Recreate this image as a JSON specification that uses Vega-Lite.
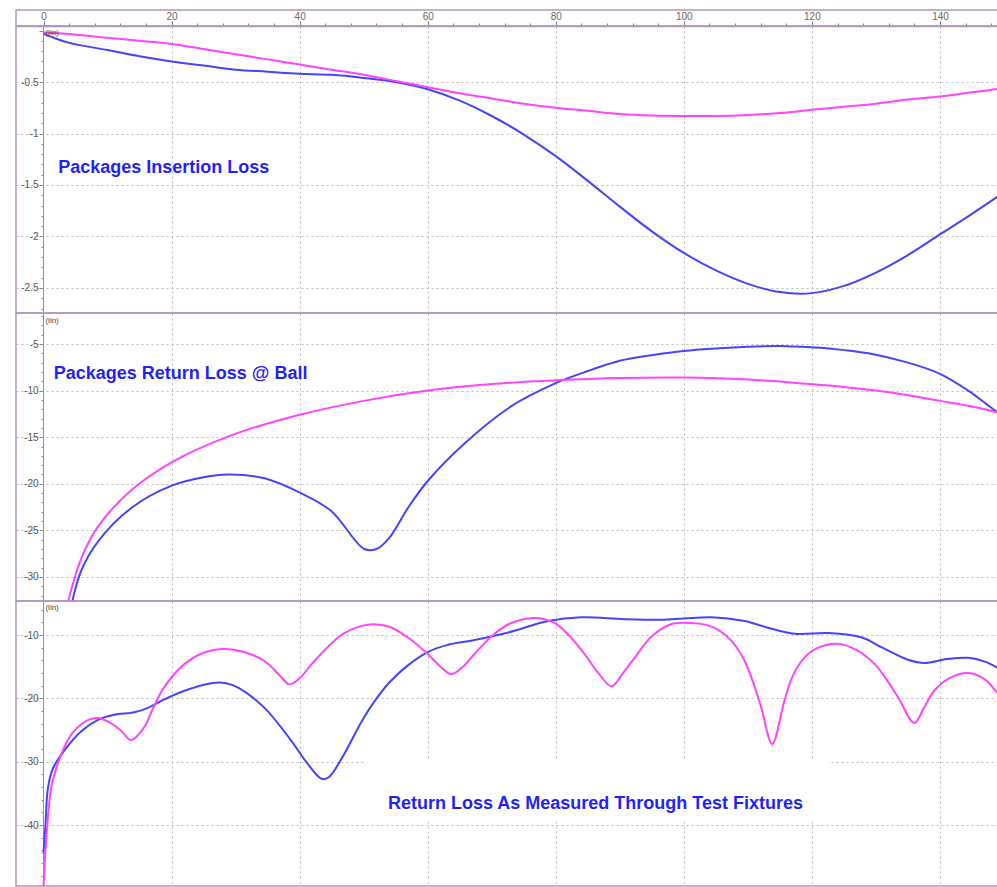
{
"$schema": "https://vega.github.io/schema/vega-lite/v6.json",
"padding": {"left": 15, "top": 9, "right": 0, "bottom": 0},
"background": "white",
"spacing": 0,
"bounds": "flush",
"config": {
  "view": {"stroke": "#b096b8", "strokeWidth": 1.5},
  "font": "Liberation Sans",
  "axis": {"labelFont": "Liberation Sans", "labelFontSize": 10, "labelColor": "#555555", "title": null, "labelOverlap": false, "labelFlush": false, "labelBound": false, "tickCount": 500}
},
"resolve": {"scale": {"y": "independent"}},
"datasets": {
  "d": [
    {"p":1,"s":"b","x":0,"y":-0.03},{"p":1,"s":"b","x":2,"y":-0.08},{"p":1,"s":"b","x":4,"y":-0.12},{"p":1,"s":"b","x":10,"y":-0.19},{"p":1,"s":"b","x":15,"y":-0.25},{"p":1,"s":"b","x":20,"y":-0.3},{"p":1,"s":"b","x":25,"y":-0.34},{"p":1,"s":"b","x":30,"y":-0.38},{"p":1,"s":"b","x":35,"y":-0.4},{"p":1,"s":"b","x":40,"y":-0.42},{"p":1,"s":"b","x":45,"y":-0.43},{"p":1,"s":"b","x":50,"y":-0.46},{"p":1,"s":"b","x":55,"y":-0.5},{"p":1,"s":"b","x":60,"y":-0.57},{"p":1,"s":"b","x":65,"y":-0.68},{"p":1,"s":"b","x":70,"y":-0.83},{"p":1,"s":"b","x":75,"y":-1.01},{"p":1,"s":"b","x":80,"y":-1.22},{"p":1,"s":"b","x":85,"y":-1.46},{"p":1,"s":"b","x":90,"y":-1.71},{"p":1,"s":"b","x":95,"y":-1.95},{"p":1,"s":"b","x":100,"y":-2.16},{"p":1,"s":"b","x":105,"y":-2.33},{"p":1,"s":"b","x":110,"y":-2.46},{"p":1,"s":"b","x":115,"y":-2.54},{"p":1,"s":"b","x":120,"y":-2.55},{"p":1,"s":"b","x":125,"y":-2.48},{"p":1,"s":"b","x":130,"y":-2.35},{"p":1,"s":"b","x":135,"y":-2.18},{"p":1,"s":"b","x":140,"y":-1.98},{"p":1,"s":"b","x":145,"y":-1.78},{"p":1,"s":"b","x":150,"y":-1.57},
    {"p":1,"s":"m","x":0,"y":-0.02},{"p":1,"s":"m","x":5,"y":-0.04},{"p":1,"s":"m","x":10,"y":-0.07},{"p":1,"s":"m","x":15,"y":-0.1},{"p":1,"s":"m","x":20,"y":-0.13},{"p":1,"s":"m","x":25,"y":-0.18},{"p":1,"s":"m","x":30,"y":-0.23},{"p":1,"s":"m","x":35,"y":-0.28},{"p":1,"s":"m","x":40,"y":-0.33},{"p":1,"s":"m","x":45,"y":-0.38},{"p":1,"s":"m","x":50,"y":-0.43},{"p":1,"s":"m","x":55,"y":-0.49},{"p":1,"s":"m","x":60,"y":-0.55},{"p":1,"s":"m","x":65,"y":-0.61},{"p":1,"s":"m","x":70,"y":-0.66},{"p":1,"s":"m","x":75,"y":-0.71},{"p":1,"s":"m","x":80,"y":-0.75},{"p":1,"s":"m","x":85,"y":-0.78},{"p":1,"s":"m","x":90,"y":-0.81},{"p":1,"s":"m","x":95,"y":-0.825},{"p":1,"s":"m","x":100,"y":-0.83},{"p":1,"s":"m","x":105,"y":-0.83},{"p":1,"s":"m","x":110,"y":-0.82},{"p":1,"s":"m","x":115,"y":-0.8},{"p":1,"s":"m","x":120,"y":-0.77},{"p":1,"s":"m","x":125,"y":-0.74},{"p":1,"s":"m","x":130,"y":-0.71},{"p":1,"s":"m","x":135,"y":-0.67},{"p":1,"s":"m","x":140,"y":-0.64},{"p":1,"s":"m","x":145,"y":-0.6},{"p":1,"s":"m","x":150,"y":-0.56},
    {"p":2,"s":"b","x":4.2,"y":-33.5},{"p":2,"s":"b","x":5.9,"y":-29.3},{"p":2,"s":"b","x":8.5,"y":-26.2},{"p":2,"s":"b","x":13.7,"y":-22.6},{"p":2,"s":"b","x":20,"y":-20.2},{"p":2,"s":"b","x":25,"y":-19.3},{"p":2,"s":"b","x":28.8,"y":-19.0},{"p":2,"s":"b","x":34.5,"y":-19.4},{"p":2,"s":"b","x":40.2,"y":-21.0},{"p":2,"s":"b","x":44.9,"y":-22.9},{"p":2,"s":"b","x":50.1,"y":-27.0},{"p":2,"s":"b","x":52,"y":-27.0},{"p":2,"s":"b","x":54,"y":-25.8},{"p":2,"s":"b","x":57,"y":-22.5},{"p":2,"s":"b","x":60,"y":-19.7},{"p":2,"s":"b","x":65.7,"y":-15.7},{"p":2,"s":"b","x":73,"y":-11.7},{"p":2,"s":"b","x":80,"y":-9.2},{"p":2,"s":"b","x":85,"y":-7.9},{"p":2,"s":"b","x":90,"y":-6.8},{"p":2,"s":"b","x":95,"y":-6.2},{"p":2,"s":"b","x":100,"y":-5.75},{"p":2,"s":"b","x":110,"y":-5.3},{"p":2,"s":"b","x":115,"y":-5.2},{"p":2,"s":"b","x":118.4,"y":-5.3},{"p":2,"s":"b","x":123,"y":-5.5},{"p":2,"s":"b","x":128.8,"y":-6.0},{"p":2,"s":"b","x":135,"y":-7.0},{"p":2,"s":"b","x":140,"y":-8.2},{"p":2,"s":"b","x":144.4,"y":-10.0},{"p":2,"s":"b","x":147,"y":-11.3},{"p":2,"s":"b","x":150,"y":-12.9},
    {"p":2,"s":"m","x":3.5,"y":-33.5},{"p":2,"s":"m","x":5.9,"y":-28.0},{"p":2,"s":"m","x":8.5,"y":-24.6},{"p":2,"s":"m","x":13.7,"y":-20.7},{"p":2,"s":"m","x":20,"y":-17.7},{"p":2,"s":"m","x":29.3,"y":-14.8},{"p":2,"s":"m","x":40,"y":-12.6},{"p":2,"s":"m","x":50,"y":-11.1},{"p":2,"s":"m","x":60,"y":-10.0},{"p":2,"s":"m","x":70,"y":-9.3},{"p":2,"s":"m","x":80,"y":-8.9},{"p":2,"s":"m","x":90,"y":-8.65},{"p":2,"s":"m","x":100,"y":-8.6},{"p":2,"s":"m","x":110,"y":-8.8},{"p":2,"s":"m","x":118,"y":-9.2},{"p":2,"s":"m","x":125,"y":-9.6},{"p":2,"s":"m","x":130,"y":-10.0},{"p":2,"s":"m","x":135,"y":-10.5},{"p":2,"s":"m","x":140,"y":-11.1},{"p":2,"s":"m","x":145,"y":-11.7},{"p":2,"s":"m","x":150,"y":-12.5},
    {"p":3,"s":"b","x":0,"y":-44.5},{"p":3,"s":"b","x":0.3,"y":-40},{"p":3,"s":"b","x":0.7,"y":-34.1},{"p":3,"s":"b","x":1.5,"y":-31},{"p":3,"s":"b","x":3.2,"y":-28.3},{"p":3,"s":"b","x":5.9,"y":-25.2},{"p":3,"s":"b","x":8.5,"y":-23.4},{"p":3,"s":"b","x":11,"y":-22.6},{"p":3,"s":"b","x":14.2,"y":-22.2},{"p":3,"s":"b","x":16.3,"y":-21.5},{"p":3,"s":"b","x":18.8,"y":-20.2},{"p":3,"s":"b","x":22,"y":-18.8},{"p":3,"s":"b","x":26.2,"y":-17.6},{"p":3,"s":"b","x":28.5,"y":-17.6},{"p":3,"s":"b","x":30.4,"y":-18.3},{"p":3,"s":"b","x":34.5,"y":-21.5},{"p":3,"s":"b","x":38.7,"y":-26.7},{"p":3,"s":"b","x":41,"y":-30},{"p":3,"s":"b","x":43.4,"y":-32.7},{"p":3,"s":"b","x":44.5,"y":-32.5},{"p":3,"s":"b","x":46.5,"y":-29.6},{"p":3,"s":"b","x":49.6,"y":-23.8},{"p":3,"s":"b","x":51.6,"y":-20.6},{"p":3,"s":"b","x":54,"y":-17.5},{"p":3,"s":"b","x":56.9,"y":-14.8},{"p":3,"s":"b","x":60,"y":-12.7},{"p":3,"s":"b","x":63,"y":-11.6},{"p":3,"s":"b","x":67.3,"y":-10.8},{"p":3,"s":"b","x":72.6,"y":-9.6},{"p":3,"s":"b","x":78.8,"y":-7.8},{"p":3,"s":"b","x":84,"y":-7.2},{"p":3,"s":"b","x":90.7,"y":-7.5},{"p":3,"s":"b","x":96.5,"y":-7.6},{"p":3,"s":"b","x":100,"y":-7.4},{"p":3,"s":"b","x":104.3,"y":-7.2},{"p":3,"s":"b","x":109.5,"y":-7.8},{"p":3,"s":"b","x":113,"y":-8.8},{"p":3,"s":"b","x":117.3,"y":-9.8},{"p":3,"s":"b","x":122.6,"y":-9.7},{"p":3,"s":"b","x":127.8,"y":-10.4},{"p":3,"s":"b","x":131,"y":-12},{"p":3,"s":"b","x":135,"y":-13.9},{"p":3,"s":"b","x":137.6,"y":-14.4},{"p":3,"s":"b","x":141,"y":-13.8},{"p":3,"s":"b","x":144.4,"y":-13.6},{"p":3,"s":"b","x":147,"y":-14.2},{"p":3,"s":"b","x":149.1,"y":-15.2},{"p":3,"s":"b","x":150,"y":-15.7},
    {"p":3,"s":"m","x":0,"y":-50},{"p":3,"s":"m","x":0.3,"y":-44},{"p":3,"s":"m","x":1.2,"y":-34.1},{"p":3,"s":"m","x":2,"y":-31},{"p":3,"s":"m","x":3.2,"y":-27.8},{"p":3,"s":"m","x":4.5,"y":-25.5},{"p":3,"s":"m","x":5.9,"y":-24.1},{"p":3,"s":"m","x":7,"y":-23.4},{"p":3,"s":"m","x":8.5,"y":-23.1},{"p":3,"s":"m","x":10.5,"y":-23.9},{"p":3,"s":"m","x":12,"y":-25},{"p":3,"s":"m","x":13.7,"y":-26.6},{"p":3,"s":"m","x":15.7,"y":-24.6},{"p":3,"s":"m","x":17,"y":-21.8},{"p":3,"s":"m","x":18.8,"y":-18.3},{"p":3,"s":"m","x":22,"y":-14.6},{"p":3,"s":"m","x":25,"y":-12.8},{"p":3,"s":"m","x":28.2,"y":-12.2},{"p":3,"s":"m","x":31,"y":-12.6},{"p":3,"s":"m","x":34.5,"y":-14.1},{"p":3,"s":"m","x":37,"y":-16.5},{"p":3,"s":"m","x":38.4,"y":-17.8},{"p":3,"s":"m","x":40,"y":-16.8},{"p":3,"s":"m","x":42.3,"y":-14.1},{"p":3,"s":"m","x":46.5,"y":-10},{"p":3,"s":"m","x":49.6,"y":-8.6},{"p":3,"s":"m","x":51.6,"y":-8.3},{"p":3,"s":"m","x":54,"y":-8.7},{"p":3,"s":"m","x":56.9,"y":-10.4},{"p":3,"s":"m","x":60,"y":-13},{"p":3,"s":"m","x":62,"y":-15},{"p":3,"s":"m","x":63.7,"y":-16.2},{"p":3,"s":"m","x":65.5,"y":-15},{"p":3,"s":"m","x":67.3,"y":-13},{"p":3,"s":"m","x":70,"y":-10.2},{"p":3,"s":"m","x":72.6,"y":-8.3},{"p":3,"s":"m","x":76.7,"y":-7.3},{"p":3,"s":"m","x":79.8,"y":-8.1},{"p":3,"s":"m","x":82,"y":-10},{"p":3,"s":"m","x":84.5,"y":-13},{"p":3,"s":"m","x":86.5,"y":-15.8},{"p":3,"s":"m","x":88.7,"y":-18.1},{"p":3,"s":"m","x":90.5,"y":-16},{"p":3,"s":"m","x":92.3,"y":-13.6},{"p":3,"s":"m","x":95,"y":-10.2},{"p":3,"s":"m","x":98,"y":-8.3},{"p":3,"s":"m","x":101.2,"y":-8.1},{"p":3,"s":"m","x":103.5,"y":-8.4},{"p":3,"s":"m","x":105.4,"y":-9.2},{"p":3,"s":"m","x":107.5,"y":-11},{"p":3,"s":"m","x":109.5,"y":-14.1},{"p":3,"s":"m","x":111,"y":-18},{"p":3,"s":"m","x":112.1,"y":-21.5},{"p":3,"s":"m","x":113.8,"y":-27.2},{"p":3,"s":"m","x":115.7,"y":-20.4},{"p":3,"s":"m","x":117,"y":-16.5},{"p":3,"s":"m","x":118.8,"y":-13.6},{"p":3,"s":"m","x":121,"y":-12},{"p":3,"s":"m","x":124.1,"y":-11.4},{"p":3,"s":"m","x":127,"y":-12.4},{"p":3,"s":"m","x":129.8,"y":-14.6},{"p":3,"s":"m","x":131.5,"y":-16.8},{"p":3,"s":"m","x":133.5,"y":-19.9},{"p":3,"s":"m","x":136,"y":-23.9},{"p":3,"s":"m","x":137.5,"y":-21.5},{"p":3,"s":"m","x":139.1,"y":-18.8},{"p":3,"s":"m","x":141.5,"y":-16.8},{"p":3,"s":"m","x":144.4,"y":-16},{"p":3,"s":"m","x":147,"y":-17},{"p":3,"s":"m","x":149.1,"y":-19.3},{"p":3,"s":"m","x":150,"y":-20.2}
  ]
},
"vconcat": [
  {
    "width": 988, "height": 16,
    "data": {"name": "d"},
    "transform": [{"filter": "datum.p === 1"}],
    "mark": {"type": "point", "opacity": 0},
    "encoding": {
      "x": {"field": "x", "type": "quantitative",
        "scale": {"domain": [-4.3, 150], "nice": false, "zero": false},
        "axis": {"orient": "top", "offset": -16, "grid": false, "tickCount": 500,
          "values": [0,4,8,12,16,20,24,28,32,36,40,44,48,52,56,60,64,68,72,76,80,84,88,92,96,100,104,108,112,116,120,124,128,132,136,140,144,148],
          "labelExpr": "datum.value % 20 === 0 ? '' + datum.value : ''",
          "tickSize": {"condition": {"test": "datum.value % 20 === 0", "value": 5}, "value": 3},
          "tickColor": "#777777", "domainColor": "#b096b8", "domainWidth": 1.5, "labelPadding": 0, "labelColor": "#666666"}
      }
    }
  },
  {
    "width": 988, "height": 287,
    "layer": [
      {
        "data": {"name": "d"},
        "transform": [{"filter": "datum.p === 1"}],
        "mark": {"type": "line", "strokeWidth": 2, "interpolate": "catmull-rom", "clip": true},
        "encoding": {
          "x": {"field": "x", "type": "quantitative",
            "scale": {"domain": [-4.3, 150], "nice": false, "zero": false},
            "axis": {"orient": "bottom", "labels": false, "ticks": false, "domain": false, "grid": true, "tickCount": 500, "values": [20,40,60,80,100,120,140], "gridDash": [2,3], "gridColor": "#bbbbbb"}},
          "y": {"field": "y", "type": "quantitative",
            "scale": {"domain": [-2.743, 0.044], "nice": false, "zero": false},
            "axis": {"offset": -27, "grid": true, "gridDash": [2,3], "gridColor": "#bbbbbb", "tickCount": 500,
              "values": [0,-0.1,-0.2,-0.3,-0.4,-0.5,-0.6,-0.7,-0.8,-0.9,-1,-1.1,-1.2,-1.3,-1.4,-1.5,-1.6,-1.7,-1.8,-1.9,-2,-2.1,-2.2,-2.3,-2.4,-2.5,-2.6,-2.7],
              "labelExpr": "(abs(datum.value*2-round(datum.value*2))<0.001 && datum.value<0) ? '' + datum.value : ''",
              "tickSize": {"condition": {"test": "abs(datum.value*2-round(datum.value*2))<0.001", "value": 4}, "value": 2},
              "gridOpacity": {"condition": {"test": "abs(datum.value*2-round(datum.value*2))<0.001 && datum.value<0", "value": 1}, "value": 0},
              "tickColor": "#888888", "domainColor": "#9a8aa0", "labelPadding": 1}},
          "color": {"field": "s", "type": "nominal", "scale": {"domain": ["b", "m"], "range": ["#4444ff", "#ff44ff"]}, "legend": null}
        }
      },
      {
        "data": {"values": [{}]},
        "mark": {"type": "text", "font": "Liberation Sans", "fontSize": 8, "fill": "#444444", "align": "left", "baseline": "top"},
        "encoding": {"x": {"datum": 0.3}, "y": {"datum": 0.015}, "text": {"value": "(lin)"}}
      },
      {
        "data": {"values": [{}]},
        "mark": {"type": "text", "font": "Liberation Sans", "fontSize": 18, "fontWeight": "bold", "fill": "#1f1fff", "align": "left", "baseline": "middle"},
        "encoding": {"x": {"datum": 2.3}, "y": {"datum": -1.335}, "text": {"value": "Packages Insertion Loss"}}
      }
    ]
  },
  {
    "width": 988, "height": 288,
    "layer": [
      {
        "data": {"name": "d"},
        "transform": [{"filter": "datum.p === 2"}],
        "mark": {"type": "line", "strokeWidth": 2, "interpolate": "catmull-rom", "clip": true},
        "encoding": {
          "x": {"field": "x", "type": "quantitative",
            "scale": {"domain": [-4.3, 150], "nice": false, "zero": false},
            "axis": {"orient": "bottom", "labels": false, "ticks": false, "domain": false, "grid": true, "tickCount": 500, "values": [20,40,60,80,100,120,140], "gridDash": [2,3], "gridColor": "#bbbbbb"}},
          "y": {"field": "y", "type": "quantitative",
            "scale": {"domain": [-32.58, -1.67], "nice": false, "zero": false},
            "axis": {"offset": -27, "grid": true, "gridDash": [2,3], "gridColor": "#bbbbbb", "tickCount": 500,
              "values": [-2,-3,-4,-5,-6,-7,-8,-9,-10,-11,-12,-13,-14,-15,-16,-17,-18,-19,-20,-21,-22,-23,-24,-25,-26,-27,-28,-29,-30,-31,-32],
              "labelExpr": "datum.value % 5 === 0 ? '' + datum.value : ''",
              "tickSize": {"condition": {"test": "datum.value % 5 === 0", "value": 4}, "value": 2},
              "gridOpacity": {"condition": {"test": "datum.value % 5 === 0", "value": 1}, "value": 0},
              "tickColor": "#888888", "domainColor": "#9a8aa0", "labelPadding": 1}},
          "color": {"field": "s", "type": "nominal", "scale": {"domain": ["b", "m"], "range": ["#4444ff", "#ff44ff"]}, "legend": null}
        }
      },
      {
        "data": {"values": [{}]},
        "mark": {"type": "text", "font": "Liberation Sans", "fontSize": 8, "fill": "#444444", "align": "left", "baseline": "top"},
        "encoding": {"x": {"datum": 0.3}, "y": {"datum": -2.1}, "text": {"value": "(lin)"}}
      },
      {
        "data": {"values": [{}]},
        "mark": {"type": "text", "font": "Liberation Sans", "fontSize": 18, "fontWeight": "bold", "fill": "#1f1fff", "align": "left", "baseline": "middle"},
        "encoding": {"x": {"datum": 1.6}, "y": {"datum": -8.2}, "text": {"value": "Packages Return Loss @ Ball"}}
      }
    ]
  },
  {
    "width": 988, "height": 285,
    "layer": [
      {
        "data": {"values": [{}]},
        "mark": {"type": "rect", "fill": "white"},
        "encoding": {"x": {"datum": 50.4, "type": "quantitative", "scale": {"domain": [-4.3, 150], "nice": false, "zero": false},
            "axis": {"orient": "bottom", "labels": false, "ticks": false, "domain": false, "grid": true, "tickCount": 500, "values": [20,40,60,80,100,120,140], "gridDash": [2,3], "gridColor": "#bbbbbb"}},
          "x2": {"datum": 122.6},
          "y": {"datum": -29.6, "type": "quantitative", "scale": {"domain": [-49.63, -4.63], "nice": false, "zero": false},
            "axis": {"offset": -27, "grid": true, "gridDash": [2,3], "gridColor": "#bbbbbb", "tickCount": 500,
              "values": [-6,-8,-10,-12,-14,-16,-18,-20,-22,-24,-26,-28,-30,-32,-34,-36,-38,-40,-42,-44,-46,-48],
              "labelExpr": "datum.value % 10 === 0 ? '' + datum.value : ''",
              "tickSize": {"condition": {"test": "datum.value % 10 === 0", "value": 4}, "value": 2},
              "gridOpacity": {"condition": {"test": "datum.value % 10 === 0", "value": 1}, "value": 0},
              "tickColor": "#888888", "domainColor": "#9a8aa0", "labelPadding": 1}},
          "y2": {"datum": -39.3}}
      },
      {
        "data": {"name": "d"},
        "transform": [{"filter": "datum.p === 3"}],
        "mark": {"type": "line", "strokeWidth": 2, "interpolate": "catmull-rom", "clip": true},
        "encoding": {
          "x": {"field": "x", "type": "quantitative"},
          "y": {"field": "y", "type": "quantitative"},
          "color": {"field": "s", "type": "nominal", "scale": {"domain": ["b", "m"], "range": ["#4444ff", "#ff44ff"]}, "legend": null}
        }
      },
      {
        "data": {"values": [{}]},
        "mark": {"type": "text", "font": "Liberation Sans", "fontSize": 8, "fill": "#444444", "align": "left", "baseline": "top"},
        "encoding": {"x": {"datum": 0.3}, "y": {"datum": -5.1}, "text": {"value": "(lin)"}}
      },
      {
        "data": {"values": [{}]},
        "mark": {"type": "text", "font": "Liberation Sans", "fontSize": 18, "fontWeight": "bold", "fill": "#1f1fff", "align": "center", "baseline": "middle"},
        "encoding": {"x": {"datum": 86.2}, "y": {"datum": -36.7}, "text": {"value": "Return Loss As Measured Through Test Fixtures"}}
      }
    ]
  }
]
}
